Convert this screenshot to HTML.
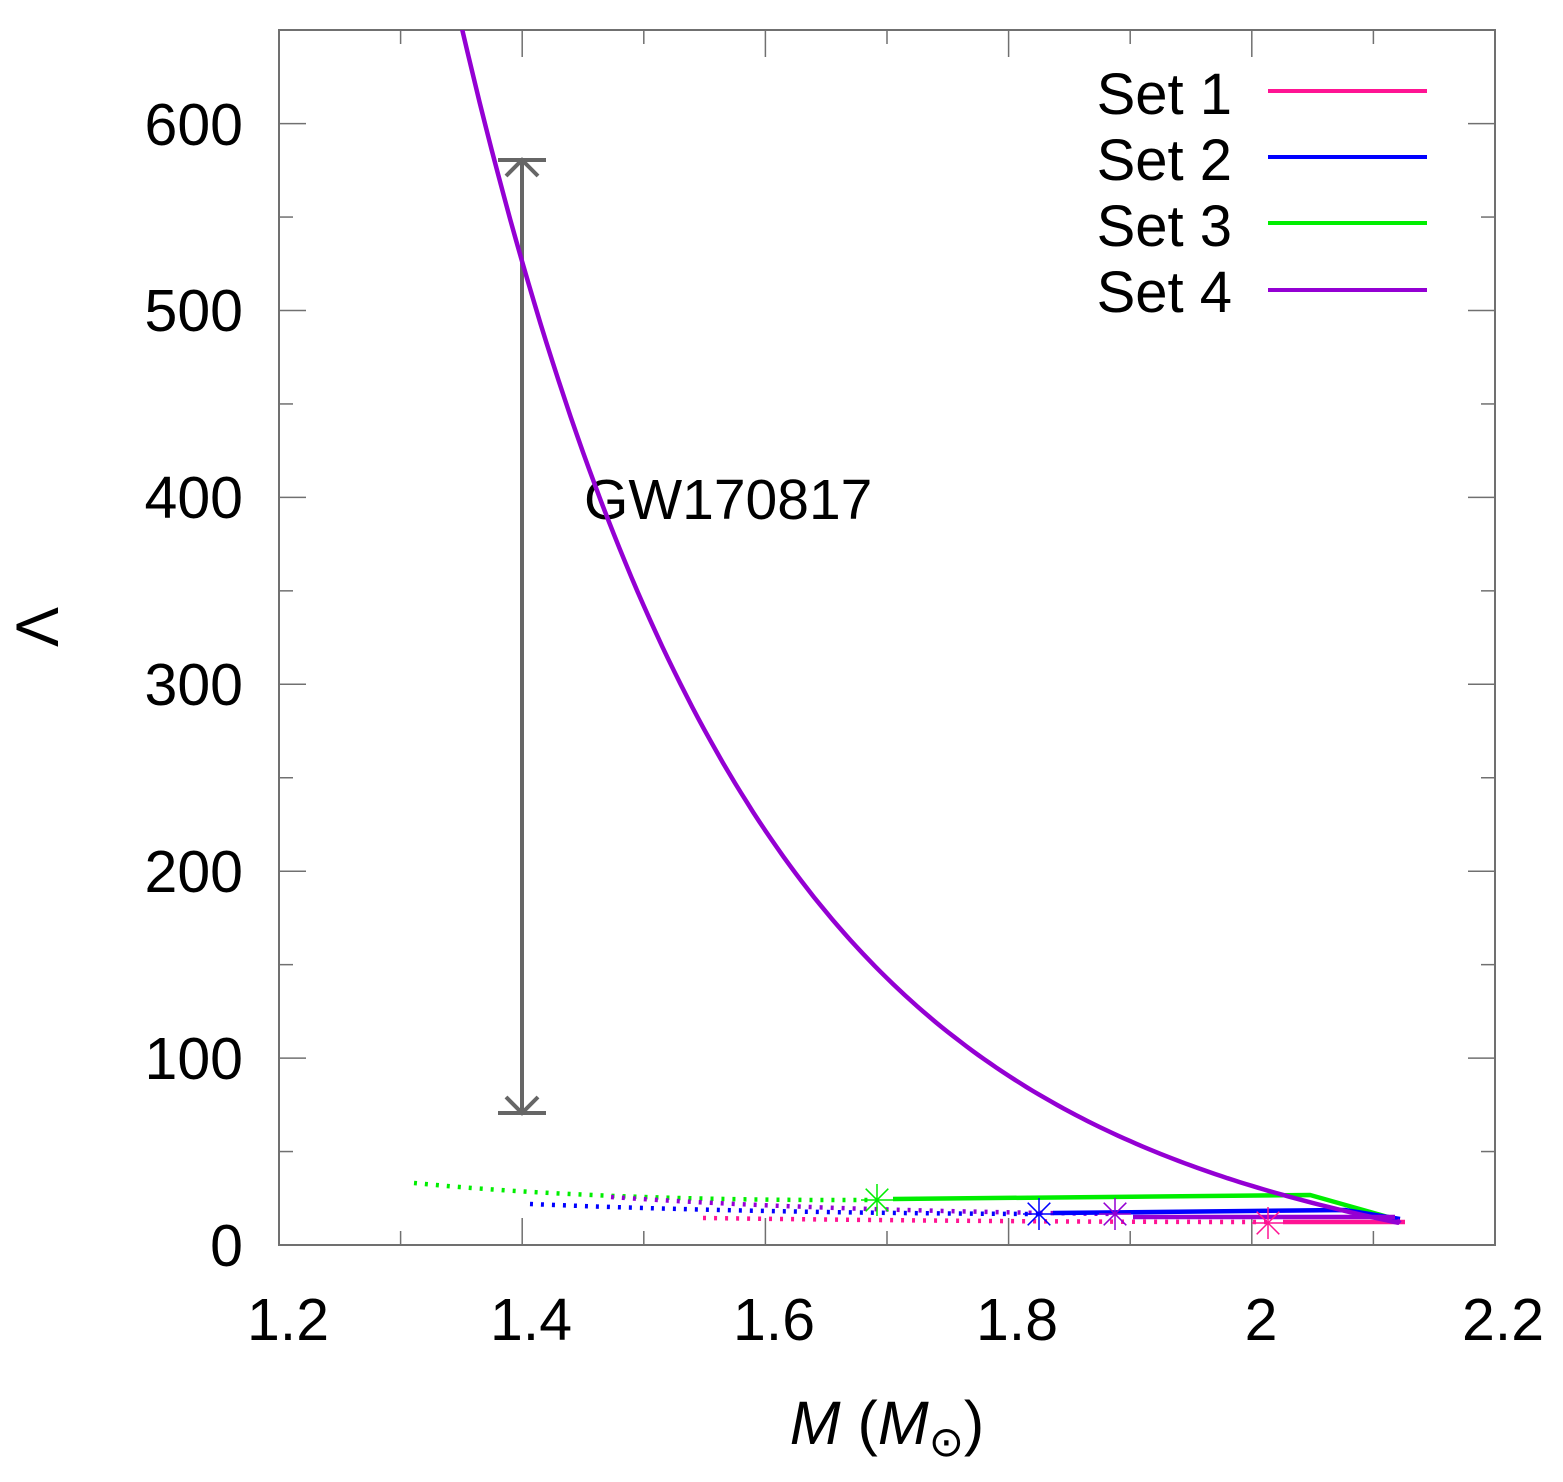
<!DOCTYPE html>
<html><head><meta charset="utf-8"><style>
body{margin:0;background:#fff}
svg text{font-family:"Liberation Sans",sans-serif;fill:#000}
</style></head><body>
<svg id="s" width="1563" height="1477" viewBox="0 0 1563 1477" xmlns="http://www.w3.org/2000/svg">
<defs><clipPath id="c"><rect x="279" y="30" width="1216" height="1215"/></clipPath></defs>
<g id="ticks" stroke="#707070" stroke-width="1.5"></g>
<rect x="279" y="30" width="1216" height="1215" fill="none" stroke="#707070" stroke-width="2"/>
<g font-size="59" text-anchor="end">
<text x="243" y="1266">0</text><text x="243" y="1079">100</text><text x="243" y="892">200</text>
<text x="243" y="705">300</text><text x="243" y="518">400</text><text x="243" y="331">500</text><text x="243" y="145">600</text>
</g>
<g font-size="59" text-anchor="middle">
<text x="288" y="1340">1.2</text><text x="531" y="1340">1.4</text><text x="774" y="1340">1.6</text>
<text x="1017" y="1340">1.8</text><text x="1261" y="1340">2</text><text x="1503" y="1340">2.2</text>
</g>
<text x="887" y="1444" font-size="61" text-anchor="middle"><tspan font-style="italic">M</tspan> (<tspan font-style="italic">M</tspan><tspan font-size="42" dy="12">⊙</tspan><tspan dy="-12">)</tspan></text>
<text transform="translate(58,627) rotate(-90)" font-size="60" text-anchor="middle">Λ</text>
<g stroke="#666" stroke-width="4" fill="none">
<line x1="522" y1="160" x2="522" y2="1113"/>
<line x1="498" y1="160" x2="546" y2="160"/><line x1="498" y1="1113" x2="546" y2="1113"/>
<polyline points="506,176 522,160 538,176"/><polyline points="506,1097 522,1113 538,1097"/>
</g>
<text x="584" y="519" font-size="57">GW170817</text>
<g clip-path="url(#c)" fill="none" stroke-width="4.5">
<path d="M414,1183 Q600,1201 877,1200" stroke="#00ee00" stroke-dasharray="3,8"/>
<path d="M611,1197 Q800,1210 1115,1214" stroke="#9400d3" stroke-dasharray="3,8"/>
<path d="M530,1204 Q750,1213 1039,1214" stroke="#0000ff" stroke-dasharray="3,8"/>
<path d="M703,1218 Q1000,1222 1268,1222" stroke="#ff1493" stroke-dasharray="3,8"/>
<path d="M893,1199 L1310,1195 L1395,1219" stroke="#00ee00"/>
<path d="M1053,1213 L1345,1210 L1400,1219" stroke="#0000ff"/>
<path d="M1133,1217 L1395,1217" stroke="#9400d3"/>
<path d="M1283,1222 L1405,1222" stroke="#ff1493"/>
<path id="p4" stroke="#9400d3"/>
</g>
<g stroke-width="1.5" fill="none">
<g stroke="#00ee00" id="st3"></g><g stroke="#0000ff" id="st2"></g><g stroke="#9400d3" id="st4"></g><g stroke="#ff1493" id="st1"></g>
</g>
<g font-size="58" text-anchor="end">
<text x="1232" y="114">Set 1</text><text x="1232" y="180">Set 2</text><text x="1232" y="246">Set 3</text><text x="1232" y="312">Set 4</text>
</g>
<g stroke-width="4">
<line x1="1268" y1="91" x2="1427" y2="91" stroke="#ff1493"/>
<line x1="1268" y1="157" x2="1427" y2="157" stroke="#0000ff"/>
<line x1="1268" y1="223" x2="1427" y2="223" stroke="#00ee00"/>
<line x1="1268" y1="290" x2="1427" y2="290" stroke="#9400d3"/>
</g>
</svg>
<script>
var t=document.getElementById('ticks'),h='';
function X(m){return 279+(m-1.2)*1216}function Y(l){return 1245-l*1.869}
for(var i=0;i<=20;i+=2){var x=X(1.2+i*0.05),L=(i%4==0)?27:14;h+='<line x1="'+x+'" y1="1245" x2="'+x+'" y2="'+(1245-L)+'"/><line x1="'+x+'" y1="30" x2="'+x+'" y2="'+(30+L)+'"/>';}
for(var j=0;j<=13;j++){var y=Y(j*50),L=(j%2==0)?27:14;h+='<line x1="279" y1="'+y+'" x2="'+(279+L)+'" y2="'+y+'"/><line x1="1495" y1="'+y+'" x2="'+(1495-L)+'" y2="'+y+'"/>';}
t.innerHTML=h;
var d='';for(var m=1.33;m<=2.1201;m+=0.005){var l=526*Math.exp(-4.3*(m-1.4))-22.8*(m-1.4)*(m-1.4);d+=(d?'L':'M')+X(m).toFixed(1)+','+Y(l).toFixed(1);}
d+='L1400,1220';document.getElementById('p4').setAttribute('d',d);
function star(id,x,y,r){var s='';for(var k=0;k<4;k++){var a=k*Math.PI/4;s+='<line x1="'+(x-r*Math.cos(a))+'" y1="'+(y-r*Math.sin(a))+'" x2="'+(x+r*Math.cos(a))+'" y2="'+(y+r*Math.sin(a))+'"/>';}document.getElementById(id).innerHTML=s;}
star('st3',877,1200,16);star('st2',1039,1214,16);star('st4',1115,1214,16);star('st1',1268,1223,16);
</script>
</body></html>
